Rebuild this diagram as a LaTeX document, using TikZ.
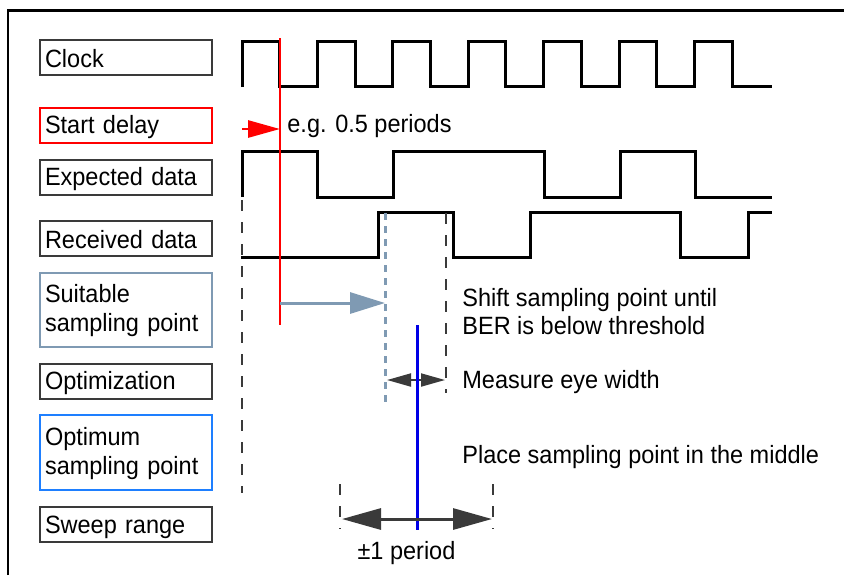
\documentclass[tikz,border=0pt]{standalone}
\usepackage{fontspec}
\setmainfont{Liberation Sans}[FakeStretch=0.94]
\usetikzlibrary{arrows.meta, positioning}

\definecolor{boxgray}{HTML}{3A3A3A}
\definecolor{suitcol}{HTML}{7F9AB3}
\definecolor{optcol}{HTML}{1E7FFF}
\definecolor{placecol}{HTML}{0000E6}
\newcommand\bstrut{\rule[-1pt]{0pt}{12pt}}

\begin{document}
\begin{tikzpicture}[
        x = 0.5pt, y = -0.5pt,
        font = \fontsize{12.5}{14.5}\selectfont,
        lbox/.style = {draw = boxgray, line width = 1pt, anchor = west,
            text width = 81pt, inner xsep = 2.5pt, inner ysep = 0pt,
            minimum height = 17.5pt, align = left,
            execute at begin node = \bstrut, execute at end node = \bstrut},
        tall box/.style = {lbox, minimum height = 37.3pt,
            execute at end node = \rule[-4pt]{0pt}{0pt}},
        note/.style = {anchor = base west, inner sep = 0pt},
        signal/.style = {line width = 1.5pt},
        guide/.style = {draw = boxgray, line width = 1pt, dash pattern = on 5.5pt off 5.5pt},
        delay/.style = {draw = red, line width = 0.9pt},
        delay arrow/.style = {draw = red, line width = 1.4pt,
            -{Triangle[length = 16pt, width = 8.5pt]}},
        shift arrow/.style = {draw = suitcol, line width = 1.5pt,
            -{Triangle[length = 17.5pt, width = 10.5pt]}},
        eye arrow/.style = {draw = boxgray, line width = 1pt,
            {Triangle[length = 12pt, width = 6.5pt]}-{Triangle[length = 12pt, width = 6.5pt]}},
        sweep arrow/.style = {draw = boxgray, line width = 1.5pt,
            {Triangle[length = 19.5pt, width = 10.5pt]}-{Triangle[length = 19.5pt, width = 10.5pt]}}
    ]

      \useasboundingbox (0,0) rectangle (844,575);
      \draw[line width = 1.2pt] (8,575) -- (8,10.5) -- (844,10.5);

      % row labels
      \node[lbox]                   (clk)   at (39,57.5)  {Clock};
      \node[lbox, draw = red]       (start) at (39,125.5) {Start delay};
      \node[lbox]                   (exp)   at (39,177.5) {Expected data};
      \node[lbox]                   (rcv)   at (39,238.5) {Received data};
      \node[tall box, draw = suitcol] (suit) at (39,310)   {Suitable\\sampling point};
      \node[lbox]                   (optz)  at (39,381.3) {Optimization};
      \node[tall box, draw = optcol]  (optm) at (39,452.7) {Optimum\\sampling point};
      \node[lbox]                   (sweep) at (39,524.9) {Sweep range};

      % waveforms
      \draw[signal] (242,87) -- (242,41)
            \foreach \i in {0,...,5} {
              -- ({242+(2*\i+1)*37.7},41) -- ({242+(2*\i+1)*37.7},86)
              -- ({242+(2*\i+2)*37.7},86) -- ({242+(2*\i+2)*37.7},41)
            }
            -- (732,41) -- (732,86) -- (772,86);
      \draw[signal] (242,197) -- (242,151) -- (317,151) -- (317,197) -- (393,197)
            -- (393,151) -- (544,151) -- (544,197) -- (620,197) -- (620,151)
            -- (695,151) -- (695,197) -- (772,197);
      \draw[signal] (241,257) -- (378,257) -- (378,212) -- (453,212) -- (453,257)
            -- (530,257) -- (530,212) -- (680,212) -- (680,257) -- (748,257)
            -- (748,212) -- (772,212);

      % start delay
      \coordinate (dly top) at (280,38);
      \coordinate (dly bot) at (280,325);
      \coordinate (dly from) at (242,129);
      \coordinate (dly to) at (280,129);
      \draw[delay] (dly top) -- (dly bot);
      \draw[delay arrow] (dly from) -- (dly to);
      \node[note] (dly txt) at (287,132) {e.g. 0.5 periods};

      % eye edges
      \coordinate (ref top) at (242,200);
      \coordinate (ref bot) at (242,493);
      \coordinate (left top) at (385,213);
      \coordinate (left bot) at (385,402);
      \coordinate (right top) at (446,213);
      \coordinate (right bot) at (446,393);
      \draw[guide] (ref top) -- (ref bot);
      \draw[guide] (right top) -- (right bot);
      \draw[draw = suitcol, line width = 1.5pt, dash pattern = on 3.5pt off 3pt]
            (left top) -- (left bot);

      \coordinate (shift from) at (280,303);
      \coordinate (shift to) at (385,303);
      \draw[shift arrow] (shift from) -- (shift to);
      \node[note] (shift txt) at (462,306) {Shift sampling point until};
      \node[note] (ber txt)   at (462,334) {BER is below threshold};

      \coordinate (eye l) at (387,380);
      \coordinate (eye r) at (445,380);
      \draw[eye arrow] (eye l) -- (eye r);
      \node[note] (eye txt) at (462,388) {Measure eye width};

      % optimum point
      \coordinate (opt top) at (417,325);
      \coordinate (opt bot) at (417,530);
      \draw[draw = placecol, line width = 1.5pt] (opt top) -- (opt bot);
      \node[note] (place txt) at (462,463) {Place sampling point in the middle};

      % sweep range
      \coordinate (sw l top) at (340,484);
      \coordinate (sw l bot) at (340,529);
      \coordinate (sw r top) at (493,484);
      \coordinate (sw r bot) at (493,529);
      \draw[guide] (sw l top) -- (sw l bot);
      \draw[guide] (sw r top) -- (sw r bot);
      \coordinate (sw l) at (342,519);
      \coordinate (sw r) at (492,519);
      \draw[sweep arrow] (sw l) -- (sw r);
      \node[anchor = base, inner sep = 0pt] (sw txt) at (406.5,559) {±1 period};

    \end{tikzpicture}
\end{document}
